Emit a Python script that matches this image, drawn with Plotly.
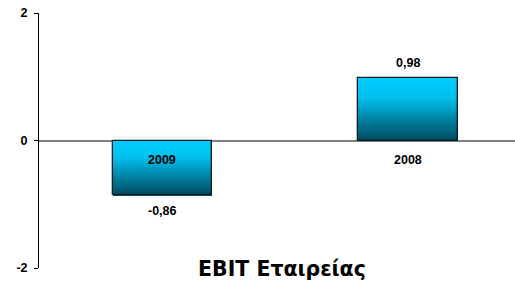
import plotly.graph_objects as go

categories = ["2009", "2008"]
values = [-0.86, 0.98]
x_pos = [1, 2]
y_ticks = [-2, 0, 2]
y_tick_labels = ["-2", "0", "2"]
title_text = "EBIT Εταιρείας"

FONT = "Arial, 'Liberation Sans', sans-serif"
TITLE_FONT = "'DejaVu Sans', Arial, sans-serif"

# gradient stops (fraction from top of bar -> rgb)
stops = [(0.0, (0, 204, 255)), (0.3, (0, 192, 238)), (0.7, (0, 122, 152)), (1.0, (0, 72, 92))]


def grad_color(t):
    for (t0, c0), (t1, c1) in zip(stops[:-1], stops[1:]):
        if t <= t1:
            f = (t - t0) / (t1 - t0) if t1 > t0 else 0
            c = [round(a + (b - a) * f) for a, b in zip(c0, c1)]
            return f"rgb({c[0]},{c[1]},{c[2]})"
    c = stops[-1][1]
    return f"rgb({c[0]},{c[1]},{c[2]})"


fig = go.Figure()
N = 60
bar_w = 0.405
for xp, v in zip(x_pos, values):
    lo, hi = min(0, v), max(0, v)
    h = (hi - lo) / N
    bases, heights, colors = [], [], []
    for j in range(N):
        bases.append(lo + h * j)
        heights.append(h * 1.05)
        t = 1 - (j + 0.5) / N
        colors.append(grad_color(t))
    fig.add_trace(go.Bar(x=[xp] * N, y=heights, base=bases, width=bar_w,
                         marker=dict(color=colors, line=dict(width=0)),
                         showlegend=False, hoverinfo="skip"))

fig.add_trace(go.Bar(x=x_pos, y=values, base=0, width=bar_w,
                     marker=dict(color="rgba(0,0,0,0)", line=dict(color="#0a1a20", width=1.3)),
                     showlegend=False))

annotations = []
for xp, v, c in zip(x_pos, values, categories):
    annotations.append(dict(x=xp, y=0, xref="x", yref="y", text=f"<b>{c}</b>",
                            showarrow=False, yshift=-19,
                            font=dict(family=FONT, size=12.5, color="black", weight="bold")))
    lbl = f"{v:.2f}".replace(".", ",")
    annotations.append(dict(x=xp, y=v, xref="x", yref="y", text=f"<b>{lbl}</b>",
                            showarrow=False, yshift=15 if v > 0 else -16,
                            font=dict(family=FONT, size=12.5, color="black", weight="bold")))
annotations.append(dict(x=(282 - 39) / 476, y=-0.002, xref="paper", yref="paper",
                        text=f"<b>{title_text}</b>", showarrow=False,
                        xanchor="center", yanchor="middle",
                        font=dict(family=TITLE_FONT, size=20.5, color="black", weight="bold")))

fig.update_layout(
    width=515, height=286,
    margin=dict(l=39, r=0, t=13, b=18, autoexpand=False),
    paper_bgcolor="white", plot_bgcolor="white",
    barmode="overlay", bargap=0,
    showlegend=False,
    annotations=annotations,
    xaxis=dict(range=[0.497, 2.436], showticklabels=False, showgrid=False,
               zeroline=False, showline=False, ticks="", automargin=False),
    yaxis=dict(range=[-2, 2], tickvals=y_ticks,
               ticktext=y_tick_labels,
               tickfont=dict(family=FONT, size=12.5, color="black", weight="bold"),
               showgrid=False, showline=True, linecolor="black", linewidth=1,
               ticks="outside", ticklen=4, tickcolor="black", tickwidth=1,
               ticklabelstandoff=4,
               automargin=False,
               zeroline=True, zerolinecolor="#808080", zerolinewidth=2),
)

fig.write_html("out.html", config={"displayModeBar": False},
               post_script="document.body.style.margin='0';document.body.style.overflow='hidden';")
